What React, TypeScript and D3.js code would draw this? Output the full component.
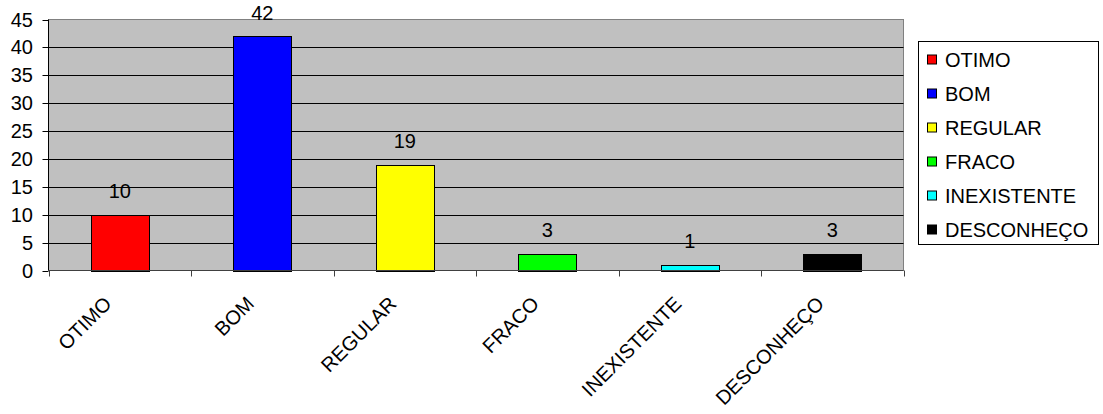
import React from "react";
import * as d3 from "d3";

const categories = ["OTIMO", "BOM", "REGULAR", "FRACO", "INEXISTENTE", "DESCONHEÇO"];
const values = [10, 42, 19, 3, 1, 3];
const colors = ["#FF0000", "#0000FF", "#FFFF00", "#00FF00", "#00FFFF", "#000000"];
const yTicks = [0, 5, 10, 15, 20, 25, 30, 35, 40, 45];

const W = 1103;
const H = 414;
const plot = { left: 48.5, right: 903.5, top: 19.5, bottom: 270.5 };
const font = "'Liberation Sans', Arial, sans-serif";
const FS = 20;

export default function App() {
  const x = d3.scaleBand<string>().domain(categories).range([plot.left, plot.right]).paddingInner(0).paddingOuter(0);
  const y = d3.scaleLinear().domain([0, 45]).range([plot.bottom, plot.top]);
  const bw = x.bandwidth() * 0.41;

  return (
    <svg width={W} height={H} style={{ position: "absolute", left: 0, top: 0 }} fontFamily={font}>
      <rect x={0} y={0} width={W} height={H} fill="#fff" />
      <rect x={plot.left} y={plot.top} width={plot.right - plot.left} height={plot.bottom - plot.top} fill="#C0C0C0" stroke="#808080" strokeWidth={1} />
      {yTicks.filter((t) => t > 0 && t < 45).map((t) => (
        <line key={"g" + t} x1={plot.left} x2={plot.right} y1={Math.round(y(t)) + 0.5} y2={Math.round(y(t)) + 0.5} stroke="#000" strokeWidth={1} />
      ))}
      {/* y axis */}
      <line x1={plot.left} x2={plot.left} y1={plot.top} y2={plot.bottom} stroke="#000" />
      {yTicks.map((t) => (
        <g key={"yt" + t}>
          <line x1={plot.left - 6} x2={plot.left} y1={Math.round(y(t)) + 0.5} y2={Math.round(y(t)) + 0.5} stroke="#000" />
          <text x={33} y={y(t) + 7} textAnchor="end" fontSize={FS} fill="#000">{t}</text>
        </g>
      ))}
      {/* bars */}
      {categories.map((c, i) => {
        const cx = (x(c) as number) + x.bandwidth() / 2;
        return (
          <g key={c}>
            <rect x={Math.round(cx - bw / 2) + 0.5} y={Math.round(y(values[i])) + 0.5} width={Math.round(bw)} height={Math.round(y(0)) - Math.round(y(values[i]))} fill={colors[i]} stroke="#000" strokeWidth={1} />
            <text x={cx} y={y(values[i]) - 16.5} textAnchor="middle" fontSize={FS} fill="#000">{values[i]}</text>
          </g>
        );
      })}
      {/* x axis */}
      <line x1={plot.left} x2={plot.right} y1={plot.bottom} y2={plot.bottom} stroke="#404040" />
      {d3.range(categories.length + 1).map((i) => {
        const xx = Math.round(plot.left + i * x.step()) + 0.5;
        return <line key={"xt" + i} x1={xx} x2={xx} y1={plot.bottom} y2={plot.bottom + 6} stroke="#404040" />;
      })}
      {categories.map((c) => {
        const cx = (x(c) as number) + x.bandwidth() / 2 - 7;
        return (
          <text key={"xl" + c} x={cx} y={305} textAnchor="end" fontSize={FS} fill="#000" transform={`rotate(-45 ${cx} 305)`}>{c}</text>
        );
      })}
      {/* legend */}
      <rect x={918.5} y={41.5} width={180} height={203} fill="#fff" stroke="#000" />
      {categories.map((c, i) => {
        const cy = 60 + i * 34;
        return (
          <g key={"lg" + c}>
            <rect x={927.5} y={cy - 5} width={9} height={9} fill={colors[i]} stroke="#000" />
            <text x={945} y={cy + 6.7} fontSize={FS} fill="#000">{c}</text>
          </g>
        );
      })}
    </svg>
  );
}
